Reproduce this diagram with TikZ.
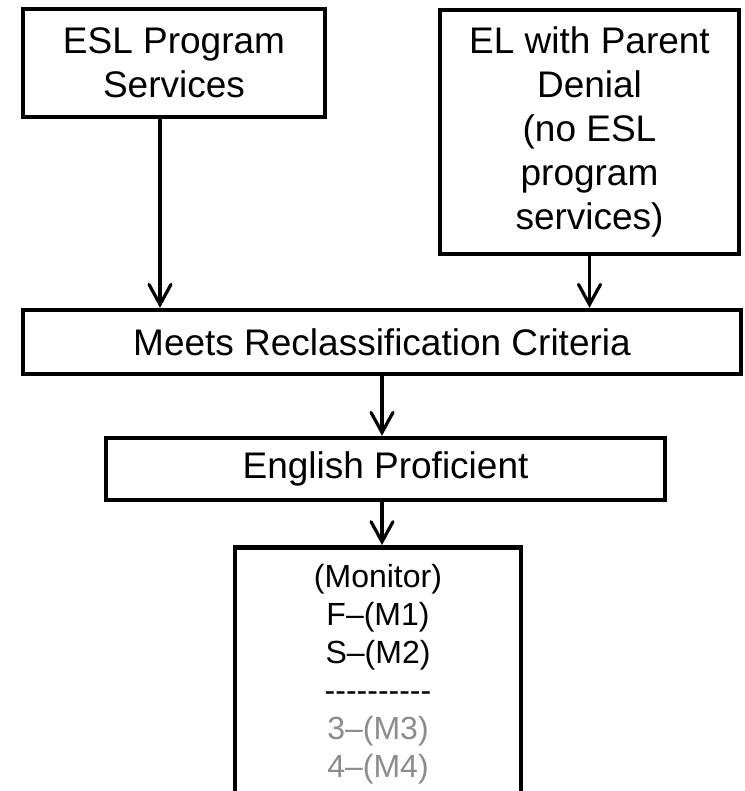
\documentclass[tikz,border=0pt]{standalone}
\usepackage{fontspec}
\setmainfont{Liberation Sans}
\usetikzlibrary{arrows.meta}

\definecolor{monitorgray}{RGB}{140,140,140}

\tikzset{
  stagebox/.style={draw=black,line width=4.5,inner sep=0,align=center,
    font=\fontsize{37pt}{44pt}\selectfont},
  flow/.style={line width=3.2,black,line cap=round,
    -{Straight Barb[length=20pt,width=22pt,line cap=round]}}
}

\begin{document}
\begin{tikzpicture}[x=1pt,y=-1pt]
               \clip (0,0) rectangle (744,791);
               % top left box
               \node [stagebox,minimum width=302,minimum height=108] (esl) at (174,63) {ESL Program\\Services};
               % top right box
               \node [stagebox,minimum width=299,minimum height=244] (denial) at (589.5,132) {EL with Parent\\Denial\\(no ESL\\program\\services)};
               % wide middle box
               \node [stagebox,minimum width=718,minimum height=64] (meets) at (382,342) {Meets Reclassification Criteria};
               % proficient box
               \node [stagebox,minimum width=559,minimum height=62] (prof) at (385.5,469) {English Proficient};
               % monitor box, runs off the bottom
               \node [stagebox,anchor=north,minimum width=286,minimum height=320] (mon) at (378,545) {};
               \node [align=center,font=\fontsize{32pt}{38pt}\selectfont] (monlist) at (378,674) {(Monitor)\\F–(M1)\\S–(M2)\\-\kern0pt-\kern0pt-\kern0pt-\kern0pt-\kern0pt-\kern0pt-\kern0pt-\kern0pt-\kern0pt-\\\textcolor{monitorgray}{3–(M3)}\\\textcolor{monitorgray}{4–(M4)}};
               % arrows down
               \draw [flow] ([xshift=-14]esl.south) -- ([xshift=-14]esl.south |- meets.north);
               \draw [flow] (denial.south) -- (denial.south |- meets.north);
               \draw [flow] (meets.south) -- (meets.south |- prof.north);
               \draw [flow] (meets.south |- prof.south) -- (meets.south |- mon.north);
\end{tikzpicture}
\end{document}
